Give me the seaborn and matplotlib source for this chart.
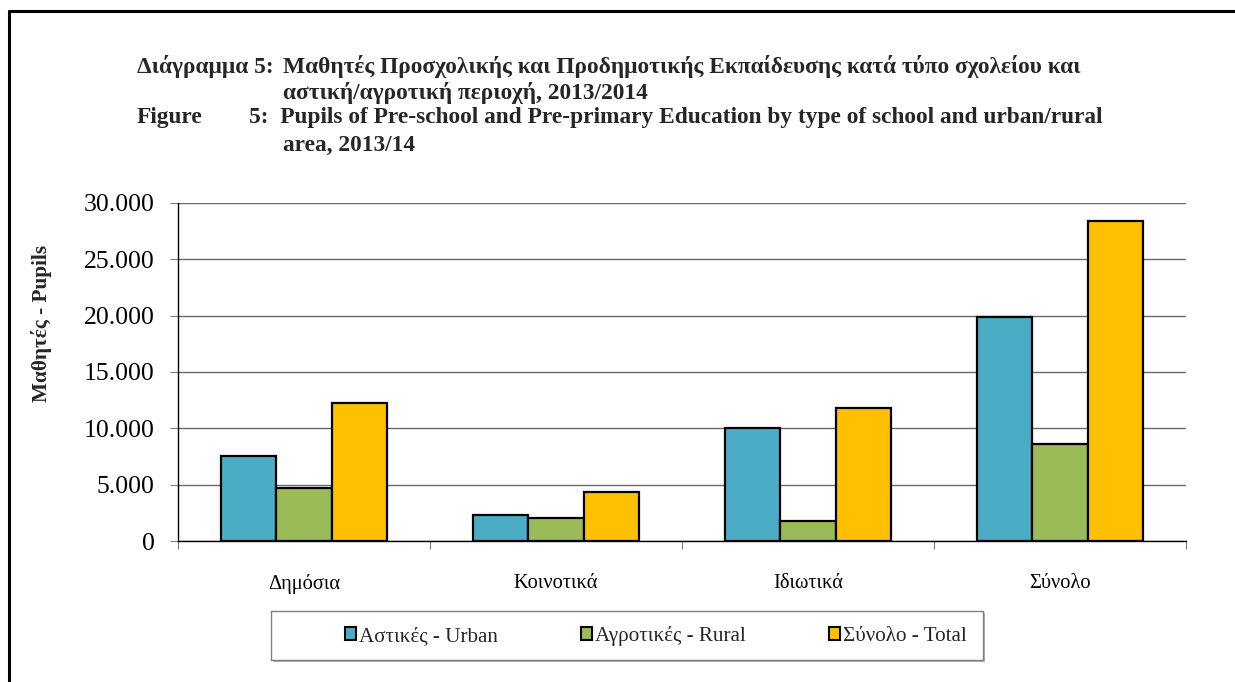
import matplotlib
matplotlib.use("Agg")
import matplotlib.pyplot as plt
import matplotlib.ticker as mticker
from matplotlib.lines import Line2D
from matplotlib.patches import Patch, Rectangle
import numpy as np
import pandas as pd
import seaborn as sns

# Δεδομένα (τιμές διαβασμένες από το διάγραμμα)
categories = ["Δημόσια", "Κοινοτικά", "Ιδιωτικά", "Σύνολο"]
series = ["Αστικές - Urban", "Αγροτικές - Rural", "Σύνολο - Total"]
urban = [7520, 2310, 10010, 19840]
rural = [4680, 2040, 1810, 8620]
total = [12250, 4350, 11820, 28430]
colors = ["#4BACC6", "#9BBB59", "#FFC000"]
yticks = [0, 5000, 10000, 15000, 20000, 25000, 30000]

df = pd.DataFrame({
    "category": categories * 3,
    "series": [series[0]] * 4 + [series[1]] * 4 + [series[2]] * 4,
    "value": urban + rural + total,
})

sns.set_theme(style="white")
plt.rcParams["font.family"] = ["Liberation Serif", "DejaVu Serif"]

W, H = 1235, 682
fig = plt.figure(figsize=(W / 100, H / 100), dpi=100)
fig.patch.set_facecolor("white")
ax = fig.add_axes([178 / W, 1 - 541 / H, (1186 - 178) / W, (541 - 203) / H])

sns.barplot(data=df, x="category", y="value", hue="series", order=categories,
            hue_order=series, palette=colors, width=0.66, edgecolor="black",
            linewidth=1.6, saturation=1, legend=False, ax=ax)

ax.set_ylim(0, 30000)
ax.set_xlim(-0.5, 3.5)
ax.set_yticks(yticks)
ax.yaxis.set_major_formatter(mticker.FuncFormatter(lambda v, p: f"{v:,.0f}".replace(",", ".")))
ax.grid(axis="y", color="#6a6a6a", linewidth=1.0)
ax.set_axisbelow(True)
for s in ["top", "right"]:
    ax.spines[s].set_visible(False)
for s in ["left", "bottom"]:
    ax.spines[s].set_color("black")
    ax.spines[s].set_linewidth(1.0)

# τικ στα όρια των κατηγοριών (στυλ Excel)
ax.set_xticks(np.arange(-0.5, 4.0, 1.0), minor=True)
ax.tick_params(axis="x", which="major", length=0, labelsize=14.8, pad=24, colors="black")
ax.tick_params(axis="x", which="minor", length=6, width=0.8, color="#7f7f7f", bottom=True)
ax.tick_params(axis="y", length=6, width=0.8, color="#7f7f7f", labelsize=18.5, left=True, pad=11,
               labelcolor="black")
ax.set_xlabel("")
ax.set_ylabel("")

fig.text(42 / W, 1 - 323 / H, "Μαθητές - Pupils", rotation=90, ha="center", va="center",
         fontsize=15.3, fontweight="bold")

# τίτλος
tfs = 16.8
fig.text(137 / W, 1 - 67 / H, "Διάγραμμα 5:", fontsize=tfs, fontweight="bold", va="center")
fig.text(283 / W, 1 - 67 / H,
         "Μαθητές Προσχολικής και Προδημοτικής Εκπαίδευσης κατά τύπο σχολείου και",
         fontsize=tfs, fontweight="bold", va="center")
fig.text(283 / W, 1 - 93 / H, "αστική/αγροτική περιοχή, 2013/2014",
         fontsize=tfs, fontweight="bold", va="center")
fig.text(137 / W, 1 - 118 / H, "Figure", fontsize=tfs, fontweight="bold", va="center")
fig.text(249 / W, 1 - 118 / H,
         "5:  Pupils of Pre-school and Pre-primary Education by type of school and urban/rural",
         fontsize=tfs, fontweight="bold", va="center")
fig.text(283 / W, 1 - 145 / H, "area, 2013/14", fontsize=tfs, fontweight="bold", va="center")

# πλαίσιο υπομνήματος (με ελαφριά σκιά)
fig.add_artist(Rectangle((273 / W, 1 - 662 / H), (983 - 271) / W, (660 - 611) / H,
                         transform=fig.transFigure, facecolor="#b0b0b0", edgecolor="none"))
fig.add_artist(Rectangle((271 / W, 1 - 660 / H), (983 - 271) / W, (660 - 611) / H,
                         transform=fig.transFigure, facecolor="white", edgecolor="#808080",
                         linewidth=1.0))

handles = [Patch(facecolor=c, edgecolor="black", linewidth=1.5) for c in colors]
leg = fig.legend(handles, series, loc="center", bbox_to_anchor=(656 / W, 1 - 636 / H),
                 ncol=3, frameon=False, fontsize=15.2, handlelength=0.55,
                 handleheight=0.55, handletextpad=0.15, columnspacing=3.9,
                 borderpad=0, borderaxespad=0)

# εξωτερικό πλαίσιο
fig.add_artist(Line2D([9 / W, 9 / W], [0, 1 - 11 / H], color="black", linewidth=2.2,
                      transform=fig.transFigure))
fig.add_artist(Line2D([9 / W, 1], [1 - 11 / H, 1 - 11 / H], color="black", linewidth=2.2,
                      transform=fig.transFigure))

fig.savefig("out.png", dpi=100)
plt.close(fig)
